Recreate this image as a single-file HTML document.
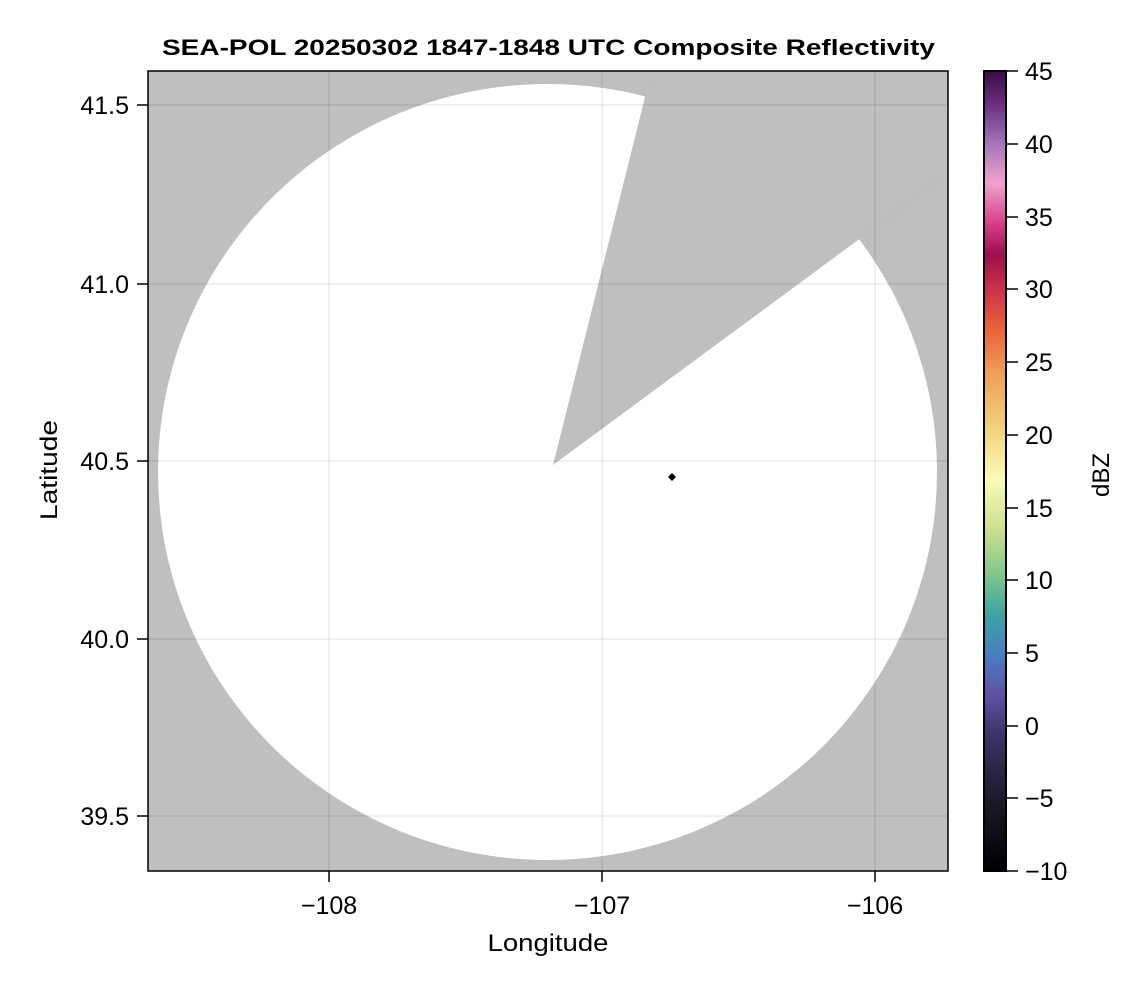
<!DOCTYPE html>
<html><head><meta charset="utf-8"><style>
body{margin:0;background:#fff;}
svg text{font-family:"Liberation Sans",sans-serif;fill:#000;}
</style></head><body>
<svg width="1146" height="990" xmlns="http://www.w3.org/2000/svg">
<defs>
<clipPath id="c"><rect x="148" y="71" width="800" height="800"/></clipPath>
<linearGradient id="cb" x1="0" y1="1" x2="0" y2="0">
<stop offset="0" stop-color="#000004"/>
<stop offset="0.09" stop-color="#1c1a2a"/>
<stop offset="0.17" stop-color="#3b3467"/>
<stop offset="0.22" stop-color="#5d52a5"/>
<stop offset="0.27" stop-color="#4a7ec0"/>
<stop offset="0.32" stop-color="#3ba4a4"/>
<stop offset="0.37" stop-color="#80c58c"/>
<stop offset="0.43" stop-color="#cfe28f"/>
<stop offset="0.49" stop-color="#fbfbb5"/>
<stop offset="0.55" stop-color="#f2d47e"/>
<stop offset="0.62" stop-color="#f0a058"/>
<stop offset="0.68" stop-color="#e8603a"/>
<stop offset="0.73" stop-color="#c7304a"/>
<stop offset="0.77" stop-color="#9c0f4d"/>
<stop offset="0.81" stop-color="#d8408a"/>
<stop offset="0.86" stop-color="#f0a2cc"/>
<stop offset="0.91" stop-color="#a274b8"/>
<stop offset="0.96" stop-color="#6a2d7c"/>
<stop offset="1" stop-color="#3b0a46"/>
</linearGradient>
</defs>
<g clip-path="url(#c)">
<rect x="148" y="71" width="800" height="800" fill="#bfbfbf"/>
<ellipse cx="547.5" cy="472" rx="389.5" ry="388" fill="#fff"/>
<polygon points="553,465 645,97 660,40 950,40 950,172 858,240" fill="#bfbfbf"/>
<g stroke="#000" stroke-opacity="0.12" stroke-width="1">
<line x1="329" y1="71" x2="329" y2="871"/><line x1="602" y1="71" x2="602" y2="871"/><line x1="875" y1="71" x2="875" y2="871"/>
<line x1="148" y1="105" x2="948" y2="105"/><line x1="148" y1="284" x2="948" y2="284"/><line x1="148" y1="461" x2="948" y2="461"/><line x1="148" y1="639" x2="948" y2="639"/><line x1="148" y1="816" x2="948" y2="816"/>
</g>
<polygon points="672,473 676,477 672,481 668,477" fill="#000"/>
</g>
<rect x="148" y="71" width="800" height="800" fill="none" stroke="#000" stroke-width="1.5"/>
<g stroke="#000" stroke-width="1.5"><line x1="329" y1="871" x2="329" y2="882"/><line x1="602" y1="871" x2="602" y2="882"/><line x1="875" y1="871" x2="875" y2="882"/>
<line x1="137" y1="105" x2="148" y2="105"/><line x1="137" y1="284" x2="148" y2="284"/><line x1="137" y1="461" x2="148" y2="461"/><line x1="137" y1="639" x2="148" y2="639"/><line x1="137" y1="816" x2="148" y2="816"/></g>
<g font-size="25" text-anchor="middle"><text x="329" y="914">−108</text><text x="602" y="914">−107</text><text x="875" y="914">−106</text></g>
<g font-size="25" text-anchor="end"><text x="129" y="114">41.5</text><text x="129" y="293">41.0</text><text x="129" y="470">40.5</text><text x="129" y="648">40.0</text><text x="129" y="825">39.5</text></g>
<text x="548" y="951" font-size="24" text-anchor="middle" textLength="121" lengthAdjust="spacingAndGlyphs">Longitude</text>
<text transform="translate(57,470) rotate(-90)" font-size="24" text-anchor="middle" textLength="100" lengthAdjust="spacingAndGlyphs">Latitude</text>
<text x="162" y="55" font-size="22" font-weight="bold" textLength="773" lengthAdjust="spacingAndGlyphs">SEA-POL 20250302 1847-1848 UTC Composite Reflectivity</text>
<rect x="984" y="71" width="22" height="800" fill="url(#cb)" stroke="#000" stroke-width="2"/>
<g stroke="#000" stroke-width="1.5">
<line x1="1006" y1="71" x2="1018" y2="71"/><line x1="1006" y1="144" x2="1018" y2="144"/><line x1="1006" y1="217" x2="1018" y2="217"/><line x1="1006" y1="289" x2="1018" y2="289"/><line x1="1006" y1="362" x2="1018" y2="362"/><line x1="1006" y1="435" x2="1018" y2="435"/><line x1="1006" y1="508" x2="1018" y2="508"/><line x1="1006" y1="580" x2="1018" y2="580"/><line x1="1006" y1="653" x2="1018" y2="653"/><line x1="1006" y1="726" x2="1018" y2="726"/><line x1="1006" y1="798" x2="1018" y2="798"/><line x1="1006" y1="871" x2="1018" y2="871"/></g>
<g font-size="25"><text x="1025" y="80">45</text><text x="1025" y="153">40</text><text x="1025" y="226">35</text><text x="1025" y="298">30</text><text x="1025" y="371">25</text><text x="1025" y="444">20</text><text x="1025" y="517">15</text><text x="1025" y="589">10</text><text x="1025" y="662">5</text><text x="1025" y="735">0</text><text x="1025" y="807">−5</text><text x="1025" y="880">−10</text></g>
<text transform="translate(1109,475) rotate(-90)" font-size="24" text-anchor="middle">dBZ</text>
</svg>
</body></html>
